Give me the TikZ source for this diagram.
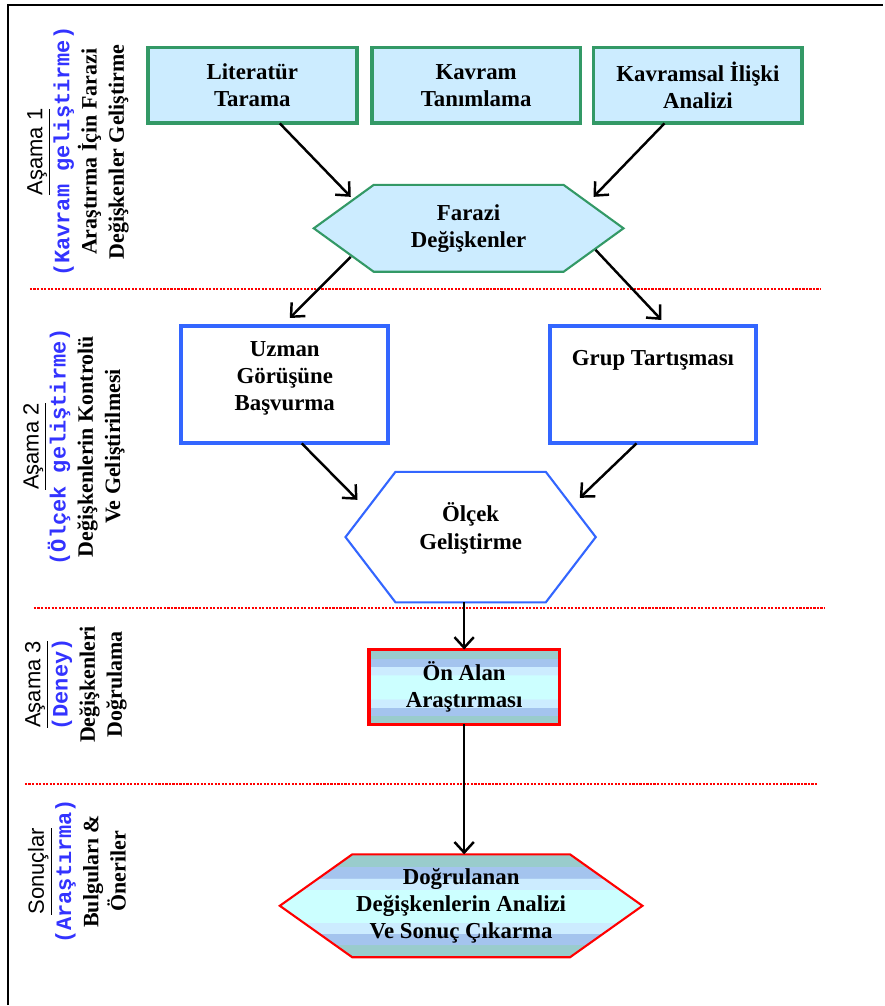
\documentclass[tikz,border=0pt]{standalone}
\usepackage{fontspec}
\setmainfont{Liberation Serif}
\setsansfont{Liberation Sans}
\setmonofont{Liberation Mono}
\usetikzlibrary{arrows.meta, calc, backgrounds}
\definecolor{boxgreen}{HTML}{339966}
\definecolor{boxfill}{HTML}{CCECFF}
\definecolor{boxblue}{HTML}{3366FF}
\definecolor{labelblue}{HTML}{3333FF}
\definecolor{stagered}{HTML}{FF0000}
\definecolor{bandteal}{HTML}{99CCCC}
\definecolor{bandblue}{HTML}{A4C4EE}
\definecolor{bandlight}{HTML}{CCECFF}
\definecolor{bandcyan}{HTML}{CCFFFF}
\pgfdeclareverticalshading{bands}{100bp}{color(0bp)=(bandteal); color(31bp)=(bandteal);
  color(31.01bp)=(bandblue); color(36.5bp)=(bandblue); color(36.51bp)=(bandlight); color(42bp)=(bandlight);
  color(42.01bp)=(bandcyan); color(58bp)=(bandcyan); color(58.01bp)=(bandlight); color(63.5bp)=(bandlight);
  color(63.51bp)=(bandblue); color(69bp)=(bandblue); color(69.01bp)=(bandteal); color(100bp)=(bandteal)}

\begin{document}
\begin{tikzpicture}[x=0.02cm, y=-0.02cm,
    boxtext/.style={align=center, font=\fontsize{13}{15.5}\selectfont\bfseries, inner sep=0pt, outer sep=0pt},
    greenbox/.style={boxtext, draw=boxgreen, fill=boxfill, line width=2.2pt, minimum width=4.18cm, minimum height=1.52cm},
    bluebox/.style={boxtext, draw=boxblue, line width=2.2pt, minimum width=4.14cm},
    stagelabel/.style={rotate=90, align=center, font=\fontsize{12.5}{15.5}\selectfont\bfseries},
    flow/.style={-{Straight Barb[length=6pt,width=11pt]}, line width=1.4pt},
    stageline/.style={stagered, line width=1pt, dash pattern=on 1.2pt off 0.8pt}]
  \draw[line width=0.9pt] (8,1006) -- (8,5) -- (884,5);

  % asamalar arasi cizgiler
  \draw[stageline] (30,289.5) -- (822,289.5);
  \draw[stageline] (34,608.5) -- (825,608.5);
  \draw[stageline] (25,784.5) -- (818,784.5);

  % Asama 1
  \node[greenbox] (lit) at (252.5,85.5) {Literatür\\Tarama};
  \node[greenbox] (kav) at (476.5,85.5) {Kavram\\Tanımlama};
  \node[greenbox] (ilis) at (698.5,85.5) {Kavramsal İlişki\\Analizi};
  \node[boxtext, minimum width=6.2cm, minimum height=1.74cm] (faraz) at (469,228.5) {Farazi\\Değişkenler};
  \node[stagelabel] (asama1) at (78,152) {\underline{\sffamily\mdseries Aşama 1}\\{\ttfamily\color{labelblue}(Kavram geliştirme)}\\Araştırma İçin Farazi\\Değişkenler Geliştirme};

  % Asama 2
  \node[bluebox, text height=48.2pt, text depth=18.7pt] (uzman) at (285,385) {Uzman\\Görüşüne\\Başvurma};
  \node[bluebox, text height=22.3pt, text depth=44.6pt] (grup) at (653.5,385) {Grup Tartışması};
  \node[boxtext, minimum width=5.01cm, text height=44pt, text depth=30.3pt] (olcek) at (471,537.5) {Ölçek\\Geliştirme};
  \node[stagelabel] (asama2) at (74,447) {\underline{\sffamily\mdseries Aşama 2}\\{\ttfamily\color{labelblue}(Ölçek geliştirme)}\\Değişkenlerin Kontrolü\\Ve Geliştirilmesi};

  % Asama 3
  \node[boxtext, draw=red, line width=2.2pt, shade, shading=bands, minimum width=3.82cm, minimum height=1.5cm] (onalan) at (464.5,687.5) {Ön Alan\\Araştırması};
  \node[stagelabel] (asama3) at (76,685) {\underline{\sffamily\mdseries Aşama 3}\\{\ttfamily\color{labelblue}(Deney)}\\Değişkenleri\\Doğrulama};

  % Sonuclar
  \node[boxtext, minimum width=7.26cm, minimum height=2.06cm] (sonuc) at (461.5,906.5) {Doğrulanan\\Değişkenlerin Analizi\\Ve Sonuç Çıkarma};
  \node[stagelabel] (sonuclar) at (77,872) {\underline{\sffamily\mdseries Sonuçlar}\\{\ttfamily\color{labelblue}(Araştırma)}\\Bulguları \&\\Öneriler};

  \begin{scope}[on background layer]
    \fill[white] (0,0) rectangle (884,1006);
    \draw[boxgreen, fill=boxfill, line width=1.2pt] (faraz.west) -- ([xshift=1.2cm]faraz.north west) -- ([xshift=-1.2cm]faraz.north east)
      -- (faraz.east) -- ([xshift=-1.2cm]faraz.south east) -- ([xshift=1.2cm]faraz.south west) -- cycle;
    \draw[boxblue, fill=white, line width=1.2pt] (olcek.west) -- ([xshift=1cm]olcek.north west) -- ([xshift=-1cm]olcek.north east)
      -- (olcek.east) -- ([xshift=-1cm]olcek.south east) -- ([xshift=1cm]olcek.south west) -- cycle;
    \shadedraw[shading=bands, draw=red, line width=1.2pt] (sonuc.west) -- ([xshift=1.45cm]sonuc.north west) -- ([xshift=-1.45cm]sonuc.north east)
      -- (sonuc.east) -- ([xshift=-1.45cm]sonuc.south east) -- ([xshift=1.45cm]sonuc.south west) -- cycle;
  \end{scope}

  % oklar
  \draw[flow] ([shift={(27.5,0)}]lit.south) -- ([shift={(37,12)}]faraz.north west);
  \draw[flow] ([shift={(-33.5,0)}]ilis.south) -- ([shift={(-30,12)}]faraz.north east);
  \draw[flow] ([shift={(37,-15)}]faraz.south west) -- ([shift={(5,-8)}]uzman.north);
  \draw[flow] ([shift={(-28,-22)}]faraz.south east) -- ([shift={(8.5,-6)}]grup.north);
  \draw[flow] ([shift={(17,0)}]uzman.south) -- ([shift={(12,28)}]olcek.north west);
  \draw[flow] ([shift={(-16.5,0)}]grup.south) -- ([shift={(-16,26)}]olcek.north east);
  \draw[flow] (olcek.south -| onalan.north) -- (onalan.north);
  \draw[flow] (onalan.south) -- (onalan.south |- sonuc.north);
\end{tikzpicture}
\end{document}
